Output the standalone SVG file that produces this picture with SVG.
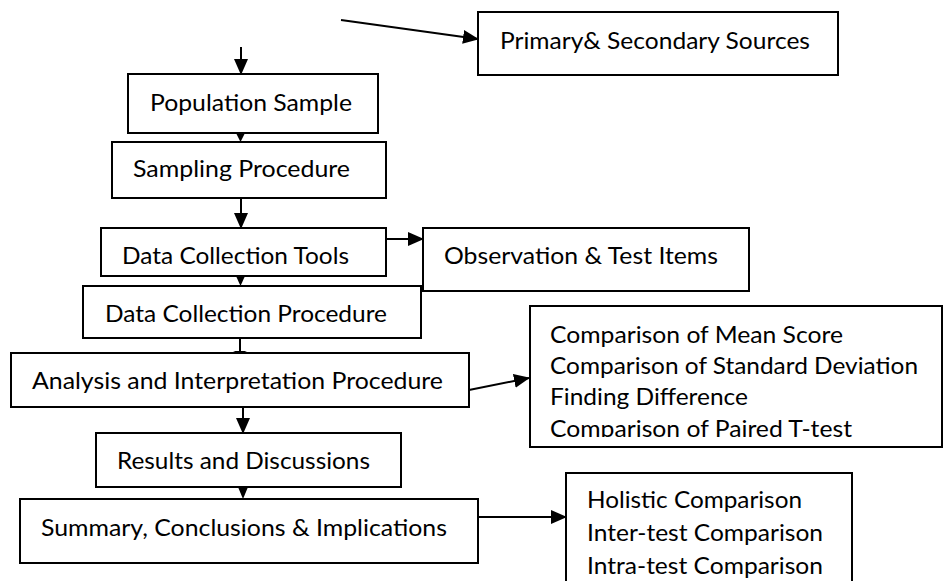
<svg xmlns="http://www.w3.org/2000/svg" width="943" height="581" viewBox="0 0 943 581">
<style>
.box{fill:#fff;stroke:#000;stroke-width:2}
.t{font-family:Lato,"Open Sans","Liberation Sans",sans-serif;font-size:24px;fill:#000}
.c{stroke:#000;stroke-width:2;fill:none}
.ah{fill:#000;stroke:none}
</style>
<defs>
<marker id="arr" markerWidth="8" markerHeight="7" refX="7.5" refY="3.5" orient="auto" markerUnits="strokeWidth">
<path d="M0,0 L8,3.5 L0,7 Z" fill="#000"/>
</marker>
<clipPath id="cmpclip"><rect x="530" y="307" width="412" height="130"/></clipPath>
</defs>
<rect width="943" height="581" fill="#fff"/>

<g id="n-primary"><rect class="box" x="478" y="12" width="360" height="63"/><text class="t" x="500" y="49" textLength="310" lengthAdjust="spacingAndGlyphs">Primary&amp; Secondary Sources</text></g>
<g id="n-population"><rect class="box" x="128" y="74" width="250" height="59"/><text class="t" x="150" y="111" textLength="202" lengthAdjust="spacingAndGlyphs">Population Sample</text></g>
<g id="n-sampling"><rect class="box" x="112" y="142" width="274" height="56"/><text class="t" x="133" y="177" textLength="217" lengthAdjust="spacingAndGlyphs">Sampling Procedure</text></g>
<g id="n-tools"><rect class="box" x="101" y="228" width="285" height="48"/><text class="t" x="122" y="264" textLength="227" lengthAdjust="spacingAndGlyphs">Data Collection Tools</text></g>
<g id="n-observation"><rect class="box" x="423" y="228" width="326" height="63"/><text class="t" x="444" y="264" textLength="274" lengthAdjust="spacingAndGlyphs">Observation &amp; Test Items</text></g>
<g id="n-procedure"><rect class="box" x="83" y="286" width="338" height="52"/><text class="t" x="105" y="322" textLength="282" lengthAdjust="spacingAndGlyphs">Data Collection Procedure</text></g>
<g id="n-analysis"><rect class="box" x="11" y="353" width="458" height="54"/><text class="t" x="32" y="389" textLength="411" lengthAdjust="spacingAndGlyphs">Analysis and Interpretation Procedure</text></g>
<g id="n-comparison"><rect class="box" x="530" y="306" width="412" height="141"/>
<g clip-path="url(#cmpclip)">
<text class="t" x="550" y="343" textLength="293" lengthAdjust="spacingAndGlyphs">Comparison of Mean Score</text>
<text class="t" x="550" y="374" textLength="368" lengthAdjust="spacingAndGlyphs">Comparison of Standard Deviation</text>
<text class="t" x="550" y="405" textLength="198" lengthAdjust="spacingAndGlyphs">Finding Difference</text>
<text class="t" x="550" y="437" textLength="302" lengthAdjust="spacingAndGlyphs">Comparison of Paired T-test</text>
</g></g>
<g id="n-results"><rect class="box" x="96" y="433" width="305" height="54"/><text class="t" x="117" y="469" textLength="253" lengthAdjust="spacingAndGlyphs">Results and Discussions</text></g>
<g id="n-summary"><rect class="box" x="20" y="499" width="458" height="64"/><text class="t" x="41" y="536" textLength="406" lengthAdjust="spacingAndGlyphs">Summary, Conclusions &amp; Implications</text></g>
<g id="n-holistic"><rect class="box" x="566" y="473" width="286" height="120"/>
<text class="t" x="587" y="508" textLength="215" lengthAdjust="spacingAndGlyphs">Holistic Comparison</text>
<text class="t" x="587" y="541" textLength="236" lengthAdjust="spacingAndGlyphs">Inter-test Comparison</text>
<text class="t" x="587" y="574" textLength="236" lengthAdjust="spacingAndGlyphs">Intra-test Comparison</text>
</g>

<g id="connectors">
<line class="c" x1="341" y1="20" x2="478" y2="39" marker-end="url(#arr)"/>
<line class="c" x1="241" y1="47" x2="241" y2="74" marker-end="url(#arr)"/>
<polygon class="ah" points="236,133 245,133 240.5,142"/>
<line class="c" x1="241" y1="198" x2="241" y2="228" marker-end="url(#arr)"/>
<line class="c" x1="386" y1="239" x2="423" y2="239" marker-end="url(#arr)"/>
<polygon class="ah" points="236,276 245,276 240.5,286"/>
<line class="c" x1="240" y1="338" x2="240" y2="353"/>
<polygon class="ah" points="233,351 247,351 240,354"/>
<line class="c" x1="469" y1="390" x2="529" y2="378" marker-end="url(#arr)"/>
<line class="c" x1="243" y1="407" x2="243" y2="433" marker-end="url(#arr)"/>
<polygon class="ah" points="238,487 248,487 243,499"/>
<line class="c" x1="478" y1="517" x2="566" y2="517" marker-end="url(#arr)"/>
</g>
</svg>
